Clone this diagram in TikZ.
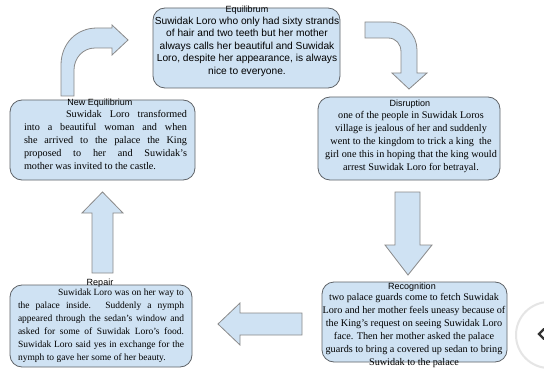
\documentclass[tikz,border=0pt]{standalone}
\usepackage{fontspec}
\setmainfont{Liberation Serif}
\setsansfont{Liberation Sans}
\definecolor{boxfill}{HTML}{CFE2F3}
\definecolor{boxline}{HTML}{5F6368}
\definecolor{arrowline}{HTML}{8A8A8A}
\tikzset{
  storybox/.style={draw=boxline, fill=boxfill, rounded corners=12pt, line width=0.8pt, inner sep=0pt},
  blockarrow/.style={draw=arrowline, fill=boxfill, line width=0.8pt},
  heading/.style={font=\sffamily\fontsize{9}{11}\selectfont, inner sep=0pt},
  sansbody/.style={font=\sffamily\fontsize{10.2}{12.5}\selectfont, align=center, inner sep=0pt, anchor=north},
  serifbody/.style={font=\fontsize{10.2}{13}\selectfont, align=center, inner sep=0pt, anchor=north},
  justbody/.style={font=\fontsize{10.2}{13}\selectfont, align=justify, inner sep=0pt, anchor=north},
}
\begin{document}
\begin{tikzpicture}[x=1pt, y=-1pt]
\useasboundingbox (0,0) rectangle (544,369);
\fill[white] (0,0) rectangle (544,369);

% story boxes
\node[storybox, minimum width=187pt, minimum height=80pt] (equi) at (246.5,48) {};
\node[storybox, minimum width=182pt, minimum height=83pt] (disr) at (409,138.5) {};
\node[storybox, minimum width=185pt, minimum height=80pt] (neweq) at (102.5,140) {};
\node[storybox, minimum width=182pt, minimum height=82pt] (repair) at (101,326) {};
\node[storybox, minimum width=185pt, minimum height=80pt] (recog) at (414.5,322) {};

% Equilibrium
\node[heading] (equiH) at (247,10.5) {Equilibrum};
\node[sansbody] (equiT) at (247,16.5) {Suwidak Loro who only had sixty strands\\of hair and two teeth but her mother\\always calls her beautiful and Suwidak\\Loro, despite her appearance, is always\\nice to everyone.};

% Disruption
\node[heading] (disrH) at (410,104) {Disruption};
\node[serifbody] (disrT) at (411,111.5) {one of the people in Suwidak Loros\\village is jealous of her and suddenly\\went to the kingdom to trick a king\ \ the\\girl one this in hoping that the king would\\arrest Suwidak Loro for betrayal.};

% New Equilibrium
\node[heading] (neweqH) at (100,103) {New Equilibrium};
\node[justbody, text width=163pt] (neweqT) at (105.5,110.5) {\hspace*{42pt}Suwidak Loro transformed\linebreak into a beautiful woman and when\linebreak she arrived to the palace the King\linebreak proposed to her and Suwidak's\linebreak mother was invited to the castle.};

% Repair
\node[heading] (repairH) at (100,283) {Repair};
\node[justbody, font=\fontsize{9.5}{13}\selectfont, text width=166pt] (repairT) at (101,289) {\hspace*{40pt}Suwidak Loro was on her way to\linebreak the palace inside. Suddenly a nymph\linebreak appeared through the sedan's window and\linebreak asked for some of Suwidak Loro's food.\linebreak Suwidak Loro said yes in exchange for the\linebreak nymph to gave her some of her beauty.};

% Recognition
\node[heading] (recogH) at (412,287) {Recognition};
\node[serifbody] (recogT) at (414,293) {two palace guards come to fetch Suwidak\\Loro and her mother feels uneasy because of\\the King's request on seeing Suwidak Loro\\face. Then her mother asked the palace\\guards to bring a covered up sedan to bring\\Suwidak to the palace};

% bent arrow into Equilibrium
\draw[blockarrow] (61,96) -- (61,65) .. controls (61,44) and (76,28) .. (97,28)
  -- (112,28) -- (112,25) -- (128,40) -- (112,55) -- (112,48) -- (95,48)
  .. controls (83,48) and (74,58) .. (74,70) -- (74,96) -- cycle;

% bent arrow out of Equilibrium
\draw[blockarrow] (365,22) -- (390,22) .. controls (405,22) and (417,35) .. (417,50)
  -- (417,73) -- (427,73) -- (409,89) -- (392,73) -- (401,73) -- (401,52)
  .. controls (401,44) and (396,38) .. (388,38) -- (365,38) -- cycle;

% Disruption down to Recognition
\draw[blockarrow] (395,192) -- (420,192) -- (420,245) -- (432,245) -- (408,275)
  -- (385,245) -- (395,245) -- cycle;

% Recognition left to Repair
\draw[blockarrow] (302,313) -- (302,335) -- (240,335) -- (240,345) -- (218,324)
  -- (240,303) -- (240,313) -- cycle;

% Repair up to New Equilibrium
\draw[blockarrow] (92,273) -- (92,213) -- (82,213) -- (102.5,192) -- (123,213)
  -- (113,213) -- (113,273) -- cycle;

% round navigation button at the right edge
\node[circle, minimum size=66pt, fill=white, draw=black!10, line width=2pt] (navbtn) at (549,335) {};
\draw[line width=2.4pt, black!80, line cap=round] (544,329) -- (539,334) -- (544,339);
\end{tikzpicture}
\end{document}
